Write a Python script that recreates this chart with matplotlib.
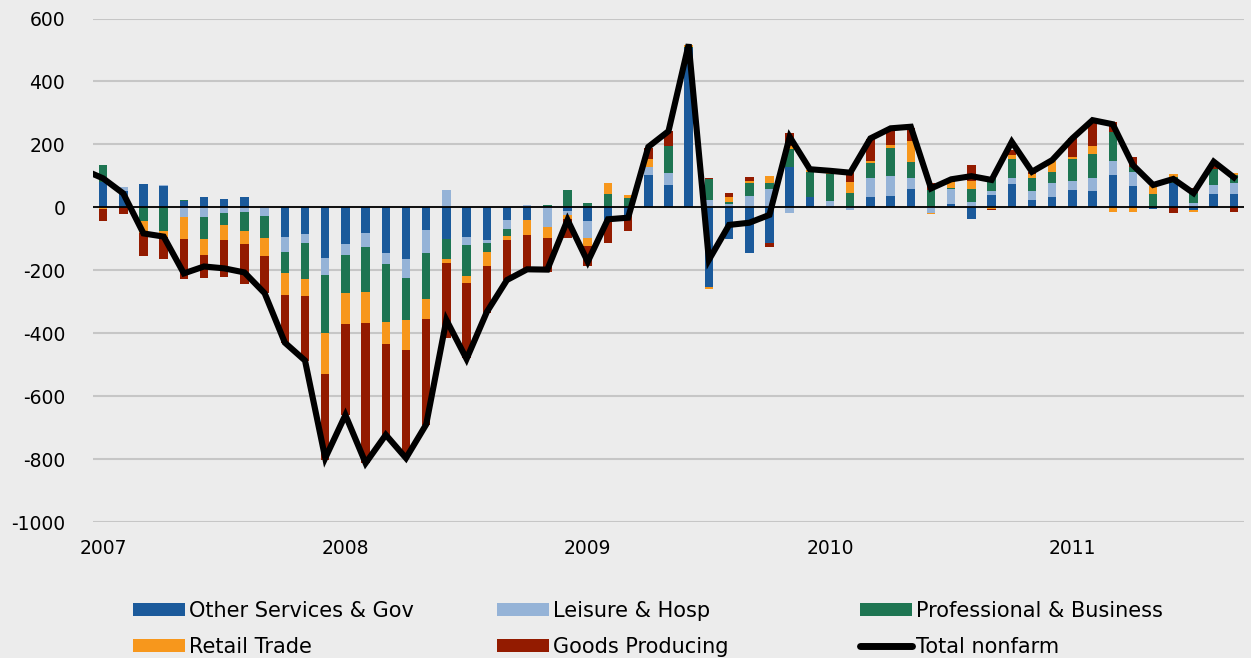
#!/usr/bin/env python3
"""
Monthly change in payrolls by sector, Jan 2007 - Sep 2011
Stacked columns by sector with total nonfarm line on top
"""

import numpy as np
import matplotlib
matplotlib.use('Agg')
import matplotlib.pyplot as plt
from matplotlib.patches import Patch
from matplotlib.lines import Line2D

# months Jan 2007 .. Sep 2011 (57 bars)
years = ['2007', '2008', '2009', '2010', '2011']

other_gov = [81, 53, 74, 69, 21, 33, 26, 33, 0, -95,
             -85, -161, -117, -81, -145, -164, -72, -102, -95, -105,
             -40, -40, 0, -11, -42, -40, -24, 103, 71, 505,
             -252, -102, -146, -114, 129, 34, 0, 0, 34, 36,
             57, 0, 11, -38, 39, 74, 23, 34, 55, 53,
             103, 69, -4, 76, -8, 42, 42]
leisure = [0, 11, 0, 3, -32, -32, -17, -14, -27, -47,
           -29, -54, -36, -44, -35, -61, -73, 55, -25, -7,
           -30, 6, -63, -15, -56, 0, 0, 26, 39, 0,
           23, 12, 36, 57, -17, 0, 21, -8, 58, 65,
           37, -19, 47, 16, 14, 20, 30, 42, 29, 39,
           45, 44, 0, 0, 15, 29, 34]
professional = [53, 0, -43, -75, 2, -68, -40, -60, -71, -68,
                -115, -184, -120, -144, -185, -132, -147, -63, -98, -30,
                -21, 0, 7, 55, 15, 42, 29, 0, 85, 5,
                66, 5, 42, 21, 55, 79, 85, 47, 50, 89,
                51, 55, 4, 41, 39, 58, 39, 37, 70, 79,
                90, 16, 42, 21, 30, 50, 26]
retail = [-6, 0, -39, -20, -70, -52, -48, -43, -58, -69,
          -53, -130, -97, -98, -69, -95, -62, -11, -24, -45,
          -13, -48, -36, -10, -26, 34, 11, 23, 0, 5,
          -8, 16, 6, 21, 12, 5, 7, 35, 5, 8,
          67, -3, 17, 26, -5, 14, 14, 34, 7, 24,
          -14, -14, 25, 8, -8, 0, 7]
goods = [-39, -22, -74, -69, -127, -72, -118, -126, -117, -151,
         -206, -273, -289, -444, -289, -339, -337, -240, -236, -148,
         -127, -111, -108, -63, -61, -74, -51, 35, 47, 0,
         4, 11, 13, -13, 41, 0, 0, 29, 69, 50,
         39, 21, 8, 51, -3, 16, 7, 0, 58, 75,
         34, 30, 0, -19, 16, 21, -16]

# total nonfarm, first value is Dec 2006 (falls just left of the axis)
total_nonfarm = [120, 92, 44, -83, -93, -210, -188, -194, -207, -273, -430,
                 -487, -797, -660, -813, -723, -797, -690, -358, -482, -333,
                 -231, -197, -198, -40, -173, -38, -33, 192, 242, 518,
                 -167, -56, -49, -24, 224, 121, 116, 110, 219, 251,
                 256, 60, 89, 99, 87, 208, 113, 150, 219, 277,
                 264, 134, 71, 90, 45, 145, 95]

series = [
    ('Other Services & Gov', other_gov, '#1B5A9B'),
    ('Leisure & Hosp', leisure, '#95B3D7'),
    ('Professional & Business', professional, '#1E7552'),
    ('Retail Trade', retail, '#F7971C'),
    ('Goods Producing', goods, '#931B00'),
]

BG = '#ECECEC'
plt.rcParams['font.family'] = ['DejaVu Sans']
plt.rcParams['axes.unicode_minus'] = False

fig = plt.figure(figsize=(12.51, 6.58), dpi=100, facecolor=BG)
ax = fig.add_axes([93 / 1251, 136 / 658, 1151 / 1251, 503.5 / 658])
ax.set_facecolor(BG)

n = len(other_gov)
x = np.arange(n)
pos_base = np.zeros(n)
neg_base = np.zeros(n)
for name, vals, color in series:
    v = np.array(vals, dtype=float)
    bottom = np.where(v >= 0, pos_base, neg_base)
    ax.bar(x, v, bottom=bottom, width=0.42, color=color, linewidth=0, zorder=2)
    pos_base += np.where(v > 0, v, 0)
    neg_base += np.where(v < 0, v, 0)

ax.plot(np.arange(-1, n), total_nonfarm, color='black', linewidth=4.4,
        solid_joinstyle='miter', zorder=4)

ax.axhline(0, color='black', linewidth=1.3, zorder=3)

ax.set_xlim(-0.5, n - 0.5)
ax.set_ylim(-1000, 600)
ax.set_yticks(range(-1000, 601, 200))
ax.yaxis.grid(True, color='#C6C6C6', linewidth=1.5, zorder=0)
ax.set_axisbelow(True)
ax.set_xticks(np.arange(0, n, 12))
ax.set_xticklabels(years)
ax.tick_params(axis='both', length=0, labelsize=13.5, colors='black')
ax.tick_params(axis='y', pad=20)
ax.tick_params(axis='x', pad=12)
for s in ax.spines.values():
    s.set_visible(False)

# legend: three equal columns, two rows
handles = [Patch(facecolor=c, label=nm) for nm, _, c in series]
handles.append(Line2D([], [], color='black', linewidth=5,
                      solid_capstyle='round', label='Total nonfarm'))
col_x = [133 / 1251, 497 / 1251, 860 / 1251]
for i, cx in enumerate(col_x):
    leg = fig.legend(handles=[handles[i], handles[i + 3]], loc='upper left',
                     bbox_to_anchor=(cx, 57 / 658), frameon=False,
                     fontsize=15, handlelength=2.5, handleheight=0.62,
                     handletextpad=0.2, labelspacing=0.75, borderaxespad=0,
                     borderpad=0)

fig.savefig('out.png', dpi=100, facecolor=BG)
